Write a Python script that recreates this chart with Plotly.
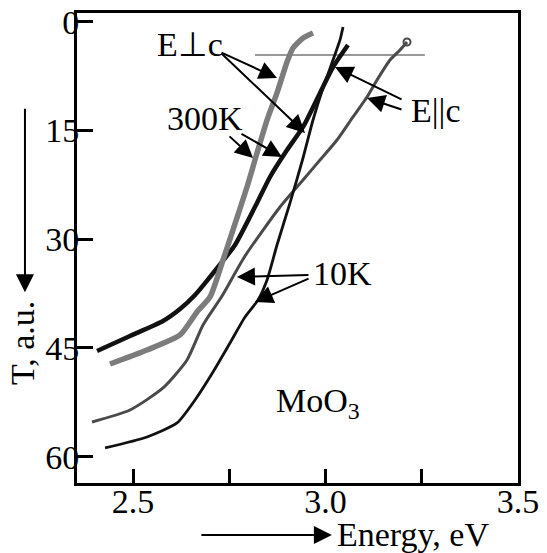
import plotly.graph_objects as go

# ---- data ----
# 300K, E||c (black, thick)
a_x = [2.4065, 2.4922, 2.5779, 2.6221, 2.6610, 2.7000, 2.7312, 2.7649, 2.8221, 2.8558, 2.9000, 2.9416, 2.9857, 3.0195, 3.0584]
a_y = [45.42, 43.35, 41.28, 39.63, 37.70, 35.21, 33.14, 30.80, 25.00, 21.42, 17.70, 14.52, 9.83, 6.25, 3.21]
# 300K, E⊥c (grey, thick)
b_x = [2.4403, 2.5364, 2.6221, 2.6662, 2.7000, 2.7338, 2.7597, 2.7961, 2.8221, 2.8481, 2.8740, 2.9000, 2.9156, 2.9416, 2.9675]
b_y = [47.21, 45.28, 43.21, 40.04, 37.97, 32.87, 28.73, 22.80, 18.11, 13.56, 9.83, 5.56, 3.63, 2.25, 1.56]
# 10K, E||c (dark grey, thin)
c_x = [2.3935, 2.4922, 2.5779, 2.6403, 2.6818, 2.7312, 2.7909, 2.8818, 2.9416, 2.9857, 3.0299, 3.0714, 3.1078, 3.1338, 3.1675, 3.1935, 3.2117]
c_y = [55.21, 53.56, 50.52, 46.66, 41.83, 37.83, 32.32, 25.56, 21.83, 19.08, 16.32, 13.14, 10.39, 8.04, 5.28, 3.90, 2.80]
# 10K, E⊥c (black, thin)
d_x = [2.4273, 2.5364, 2.6143, 2.6610, 2.7078, 2.7519, 2.7909, 2.8247, 2.8481, 2.8740, 2.9078, 2.9416, 2.9675, 2.9935, 3.0195, 3.0377, 3.0455]
d_y = [58.80, 57.28, 55.35, 52.18, 48.32, 44.32, 40.73, 38.39, 35.63, 30.80, 25.00, 18.80, 13.56, 9.15, 5.28, 2.52, 0.73]
# thin horizontal reference line
h_x = [2.817, 3.258]
h_y = [4.6, 4.6]

x_tickvals = [2.5, 2.75, 3.0, 3.25, 3.5]
x_ticktext = ["2.5", "", "3.0", "", "3.5"]
y_tickvals = [0, 15, 30, 45, 60]
y_ticktext = ["0", "15", "30", "45", "60"]

FONT = "Liberation Serif, Times New Roman, serif"
FS = 34

fig = go.Figure()
fig.add_trace(go.Scatter(x=h_x, y=h_y, mode="lines", line=dict(color="#777777", width=1.5), showlegend=False))
fig.add_trace(go.Scatter(x=c_x, y=c_y, mode="lines", line=dict(color="#4a4a4a", width=3, shape="spline", smoothing=0.6), showlegend=False))
fig.add_trace(go.Scatter(x=[c_x[-1]], y=[c_y[-1]], mode="markers",
                         marker=dict(symbol="circle-open", size=7, color="#4a4a4a", line=dict(width=2)), showlegend=False))
fig.add_trace(go.Scatter(x=d_x, y=d_y, mode="lines", line=dict(color="#111111", width=2.8, shape="spline", smoothing=0.6), showlegend=False))
fig.add_trace(go.Scatter(x=a_x, y=a_y, mode="lines", line=dict(color="#111111", width=4.5, shape="spline", smoothing=0.6), showlegend=False))
fig.add_trace(go.Scatter(x=b_x, y=b_y, mode="lines", line=dict(color="#7c7c7c", width=5.5, shape="spline", smoothing=0.6), showlegend=False))

ann = []
def text(x, y, s, ref="data", **kw):
    d = dict(x=x, y=y, text=s, showarrow=False, font=dict(family=FONT, size=FS, color="black"),
             xanchor="center", yanchor="middle")
    if ref == "paper":
        d.update(xref="paper", yref="paper")
    else:
        d.update(xref="x", yref="y")
    d.update(kw)
    ann.append(d)

def arrow(x, y, ax, ay, ref="data", width=2, size=1.8):
    d = dict(x=x, y=y, ax=ax, ay=ay, text="", showarrow=True, arrowhead=2,
             arrowsize=size, arrowwidth=width, arrowcolor="black")
    if ref == "paper":
        d.update(xref="paper", yref="paper")
    else:
        d.update(xref="x", yref="y")
    ann.append(d)

# labels inside the plot
text(2.648, 3.2, "E⊥c")
text(2.687, 13.4, "300K")
text(3.285, 12.3, "E||c")
text(3.045, 34.7, "10K")
text(2.98, 52.6, "MoO<sub>3</sub>")

# pointer arrows
arrow(2.874, 7.77, -57, -26)
arrow(2.9468, 15.35, -85, -81)
arrow(2.8117, 18.8, -25, -23)
arrow(2.887, 18.66, -42, -24)
arrow(3.0247, 6.25, 68, 33)
arrow(3.1078, 10.52, 36, 12)
arrow(2.770, 35.2, 73, -2)
arrow(2.817, 38.66, 55, -24)

# axis titles with arrows
text(0.762, -0.1106, "Energy, eV", ref="paper")
text(-0.1224, 0.298, "T, a.u.", ref="paper", textangle=-90)
arrow(0.578, -0.1106, -132, 0, ref="paper")
arrow(-0.118, 0.406, 0, -185, ref="paper")

fig.update_layout(
    width=547, height=553,
    margin=dict(l=77, r=29, t=13, b=70, autoexpand=False),
    paper_bgcolor="white", plot_bgcolor="white",
    annotations=ann,
    font=dict(family=FONT, size=FS, color="black"),
)
fig.update_xaxes(range=[2.3545, 3.5], tickvals=x_tickvals, ticktext=x_ticktext,
                 ticks="inside", ticklen=14, tickwidth=3, tickcolor="black",
                 showline=True, linewidth=3, linecolor="black", mirror=True, automargin=False,
                 ticklabelstandoff=-14,
                 showgrid=False, zeroline=False, tickfont=dict(family=FONT, size=FS))
fig.update_yaxes(range=[63.63, -1.2], tickvals=y_tickvals, ticktext=y_ticktext,
                 ticks="inside", ticklen=16, tickwidth=3, tickcolor="black",
                 showline=True, linewidth=3, linecolor="black", mirror=True, automargin=False,
                 ticklabelstandoff=-12,
                 showgrid=False, zeroline=False, tickfont=dict(family=FONT, size=FS))

fig.write_html("out.html")
